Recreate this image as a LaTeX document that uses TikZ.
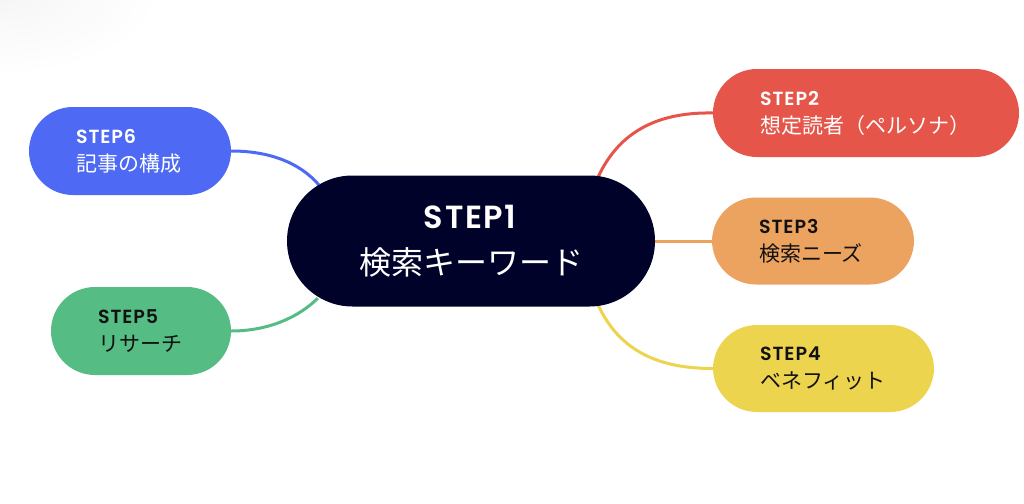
\documentclass[tikz,border=0pt]{standalone}
\usepackage{fontspec}
\setmainfont{Poppins}[BoldFont={Poppins SemiBold}, LetterSpace=5]
\newfontfamily\jp{Noto Sans CJK JP}
\usetikzlibrary{calc,backgrounds}
\definecolor{navy}{HTML}{01022A}
\definecolor{sred}{HTML}{E5554A}
\definecolor{sorange}{HTML}{EBA35F}
\definecolor{syellow}{HTML}{EDD44E}
\definecolor{sgreen}{HTML}{55BC84}
\definecolor{sblue}{HTML}{4E6AF5}
\definecolor{ink}{HTML}{111111}
\tikzset{
  stepnode/.style={rectangle, rounded corners=44pt, minimum height=88pt, inner xsep=47pt, inner ysep=0pt, align=left, font=\fontsize{19}{28}\selectfont},
  mainnode/.style={rectangle, rounded corners=65.5pt, fill=navy, text=white, minimum width=368pt, minimum height=131pt, inner sep=0pt, align=center, font=\fontsize{32}{46}\selectfont},
  conn/.style={line width=3pt}
}
\begin{document}
\begin{tikzpicture}[x=1pt, y=-1pt]
\useasboundingbox (0,0) rectangle (1024,503);

\node[mainnode] (c) at (471,241) {\textbf{STEP1}\\{\jp\fontsize{32}{46}\selectfont 検索キーワード}};
\node[stepnode, fill=sred, text=white, text width=212pt, minimum height=88pt] (s2) at (866,113) {\textbf{STEP2}\\{\jp\fontsize{21}{28}\selectfont 想定読者（ペルソナ）}};
\node[stepnode, fill=sorange, text=ink, text width=108pt, minimum height=87pt] (s3) at (813,241) {\textbf{STEP3}\\{\jp\fontsize{21}{28}\selectfont 検索ニーズ}};
\node[stepnode, fill=syellow, text=ink, text width=127pt, minimum height=87pt] (s4) at (823.5,368.5) {\textbf{STEP4}\\{\jp\fontsize{21}{28}\selectfont ベネフィット}};
\node[stepnode, fill=sgreen, text=ink, text width=86pt] (s5) at (141,331) {\textbf{STEP5}\\{\jp\fontsize{21}{28}\selectfont リサーチ}};
\node[stepnode, fill=sblue, text=white, text width=108pt] (s6) at (130,151) {\textbf{STEP6}\\{\jp\fontsize{21}{28}\selectfont 記事の構成}};

\begin{scope}[on background layer]
\fill[white] (0,0) rectangle (1024,503);
\begin{scope}
\clip (0,0) rectangle (1024,503);
\shade[inner color=black!4, outer color=white, draw=none] (-160,-95) rectangle (160,75);
\end{scope}
\draw[conn, sred] ($(c.north east)+(-57,1.5)$) .. controls (620,130) and (660,112) .. (s2.west);
\draw[conn, sorange] (c.east) -- (s3.west);
\draw[conn, syellow] ($(c.south east)+(-57,-1.5)$) .. controls (620,352) and (660,368.5) .. (s4.west);
\draw[conn, sblue] (s6.east) .. controls (270,151) and (300,163) .. ($(c.north west)+(32,9.5)$);
\draw[conn, sgreen] (s5.east) .. controls (270,331) and (300,316) .. ($(c.south west)+(31,-8.5)$);
\end{scope}
\end{tikzpicture}
\end{document}
